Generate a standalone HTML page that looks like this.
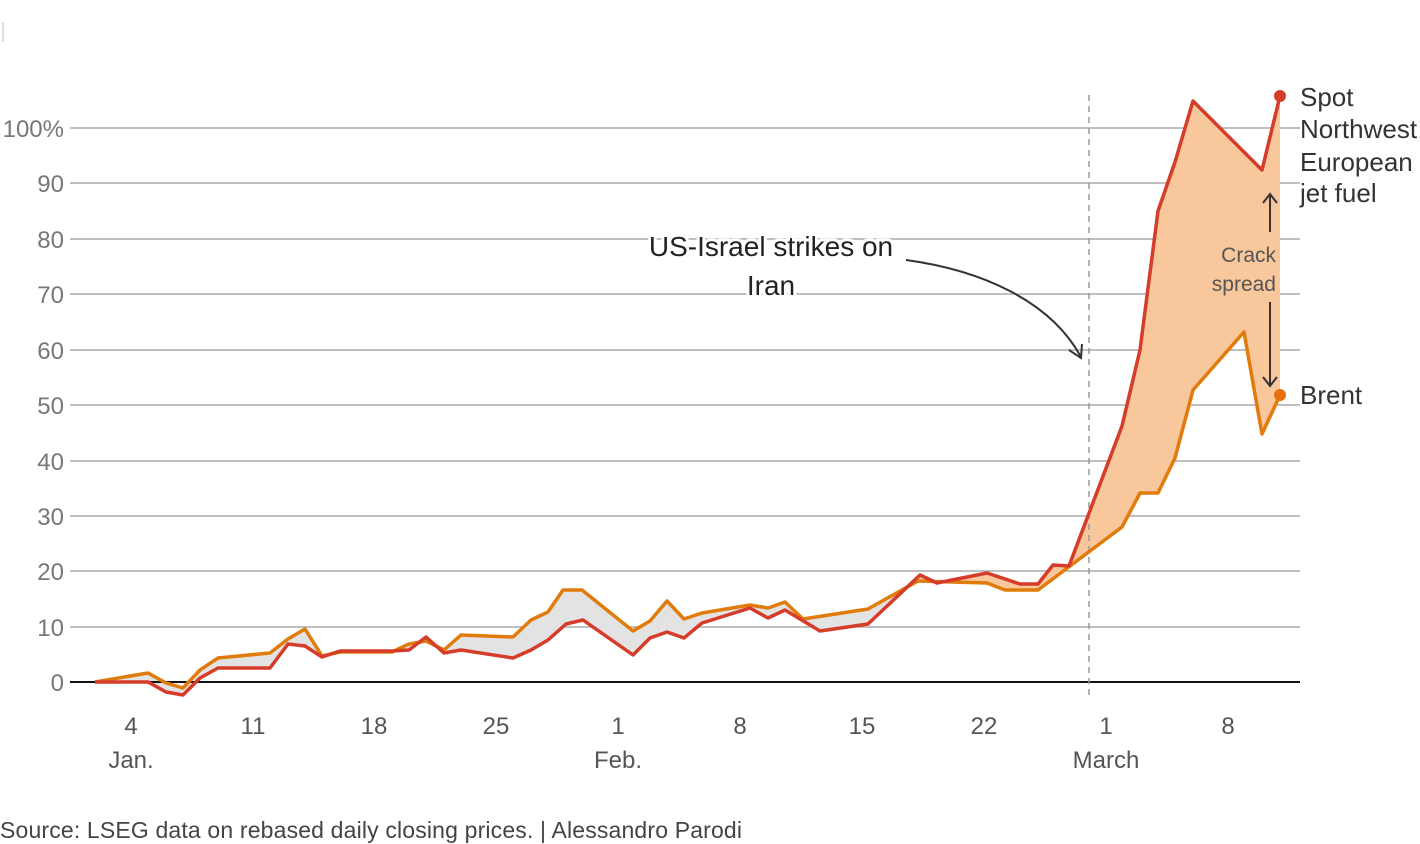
<!DOCTYPE html>
<html><head><meta charset="utf-8"><style>
html,body{margin:0;padding:0;background:#fff;}
svg{display:block;font-family:"Liberation Sans","DejaVu Sans",sans-serif;}
</style></head><body>
<svg width="1420" height="844" viewBox="0 0 1420 844" xmlns="http://www.w3.org/2000/svg">
<defs>
<clipPath id="aboveOrange"><polygon points="95,682 148,673 166,683 183,688 200,670 218,658 270,653 288,639 305,629 322,656 340,652 392,652 409,644 426,641 444,650 461,635 513,637 531,620 548,612 563,590 582,590 633,631 650,621 667,601 684,619 702,613 750,605 768,608 785,602 803,619 868,609 918,581 987,583 1005,590 1038,590 1122,527 1140,493 1158,493 1175,458 1193,390 1244,332 1262,434 1280,395 1280,0 95,0"/></clipPath>
</defs>
<line x1="3" y1="22" x2="3" y2="42" stroke="#bbb" stroke-width="1"/>
<g stroke="#aaa" stroke-width="1.5">
<line x1="70" y1="128" x2="1300" y2="128"/><line x1="70" y1="183" x2="1300" y2="183"/>
<line x1="70" y1="239" x2="1300" y2="239"/><line x1="70" y1="294" x2="1300" y2="294"/>
<line x1="70" y1="350" x2="1300" y2="350"/><line x1="70" y1="405" x2="1300" y2="405"/>
<line x1="70" y1="461" x2="1300" y2="461"/><line x1="70" y1="516" x2="1300" y2="516"/>
<line x1="70" y1="571" x2="1300" y2="571"/><line x1="70" y1="627" x2="1300" y2="627"/>
</g>
<g fill="#777" font-size="24" text-anchor="end">
<text x="64" y="137">100%</text><text x="64" y="192">90</text><text x="64" y="248">80</text>
<text x="64" y="303">70</text><text x="64" y="359">60</text><text x="64" y="414">50</text>
<text x="64" y="470">40</text><text x="64" y="525">30</text><text x="64" y="580">20</text>
<text x="64" y="636">10</text><text x="64" y="691">0</text>
</g>
<polygon fill="#e3e3e3" points="95,682 148,682 166,692 183,695 200,678 218,668 270,668 288,644 305,646 322,657 340,651 392,651 409,650 426,637 444,653 461,650 513,658 531,650 548,640 566,624 583,620 633,655 650,638 667,632 684,638 702,623 750,608 768,618 785,610 820,631 868,624 920,575 937,583 987,573 1020,584 1038,584 1053,565 1069,566 1122,426 1140,350 1158,211 1175,162 1193,101 1262,170 1280,96 1280,395 1262,434 1244,332 1193,390 1175,458 1158,493 1140,493 1122,527 1038,590 1005,590 987,583 918,581 868,609 803,619 785,602 768,608 750,605 702,613 684,619 667,601 650,621 633,631 582,590 563,590 548,612 531,620 513,637 461,635 444,650 426,641 409,644 392,652 340,652 322,656 305,629 288,639 270,653 218,658 200,670 183,688 166,683 148,673"/>
<polygon clip-path="url(#aboveOrange)" fill="#f8c79b" points="95,682 148,682 166,692 183,695 200,678 218,668 270,668 288,644 305,646 322,657 340,651 392,651 409,650 426,637 444,653 461,650 513,658 531,650 548,640 566,624 583,620 633,655 650,638 667,632 684,638 702,623 750,608 768,618 785,610 820,631 868,624 920,575 937,583 987,573 1020,584 1038,584 1053,565 1069,566 1122,426 1140,350 1158,211 1175,162 1193,101 1262,170 1280,96 1280,700 95,700"/>
<line x1="70" y1="682" x2="1300" y2="682" stroke="#111" stroke-width="2"/>
<line x1="1089" y1="95" x2="1089" y2="697" stroke="#999" stroke-width="1.5" stroke-dasharray="6,5"/>
<polyline fill="none" stroke="#e07b0c" stroke-width="3.5" stroke-linejoin="round" points="95,682 148,673 166,683 183,688 200,670 218,658 270,653 288,639 305,629 322,656 340,652 392,652 409,644 426,641 444,650 461,635 513,637 531,620 548,612 563,590 582,590 633,631 650,621 667,601 684,619 702,613 750,605 768,608 785,602 803,619 868,609 918,581 987,583 1005,590 1038,590 1122,527 1140,493 1158,493 1175,458 1193,390 1244,332 1262,434 1280,395"/>
<polyline fill="none" stroke="#d63c2a" stroke-width="3.5" stroke-linejoin="round" points="95,682 148,682 166,692 183,695 200,678 218,668 270,668 288,644 305,646 322,657 340,651 392,651 409,650 426,637 444,653 461,650 513,658 531,650 548,640 566,624 583,620 633,655 650,638 667,632 684,638 702,623 750,608 768,618 785,610 820,631 868,624 920,575 937,583 987,573 1020,584 1038,584 1053,565 1069,566 1122,426 1140,350 1158,211 1175,162 1193,101 1262,170 1280,96"/>
<circle cx="1280" cy="96" r="6" fill="#d63c2a"/>
<circle cx="1280" cy="395" r="6" fill="#e8700f"/>
<g fill="#333" font-size="26">
<text x="1300" y="106">Spot</text><text x="1300" y="138">Northwest</text>
<text x="1300" y="171">European</text><text x="1300" y="202">jet fuel</text>
<text x="1300" y="404">Brent</text>
</g>
<g fill="#555" font-size="21" text-anchor="end">
<text x="1276" y="262">Crack</text><text x="1276" y="291">spread</text>
</g>
<g stroke="#333" stroke-width="2" fill="none">
<line x1="1270" y1="232" x2="1270" y2="195"/><polyline points="1263,203 1270,194 1277,203"/>
<line x1="1270" y1="302" x2="1270" y2="386"/><polyline points="1263,377 1270,386 1277,377"/>
<path d="M906,260 C980,270 1050,300 1081,357"/><polyline points="1069,350 1081,358 1082,344"/>
</g>
<g fill="#222" font-size="28" text-anchor="middle" stroke="#fff" stroke-width="6" paint-order="stroke">
<text x="771" y="256">US-Israel strikes on</text><text x="771" y="295">Iran</text>
</g>
<g fill="#555" font-size="24" text-anchor="middle">
<text x="131" y="734">4</text><text x="253" y="734">11</text><text x="374" y="734">18</text>
<text x="496" y="734">25</text><text x="618" y="734">1</text><text x="740" y="734">8</text>
<text x="862" y="734">15</text><text x="984" y="734">22</text><text x="1106" y="734">1</text>
<text x="1228" y="734">8</text>
<text x="131" y="768">Jan.</text><text x="618" y="768">Feb.</text><text x="1106" y="768">March</text>
</g>
<text x="0" y="838" fill="#444" font-size="23" textLength="742">Source: LSEG data on rebased daily closing prices. | Alessandro Parodi</text>
</svg>
</body></html>
